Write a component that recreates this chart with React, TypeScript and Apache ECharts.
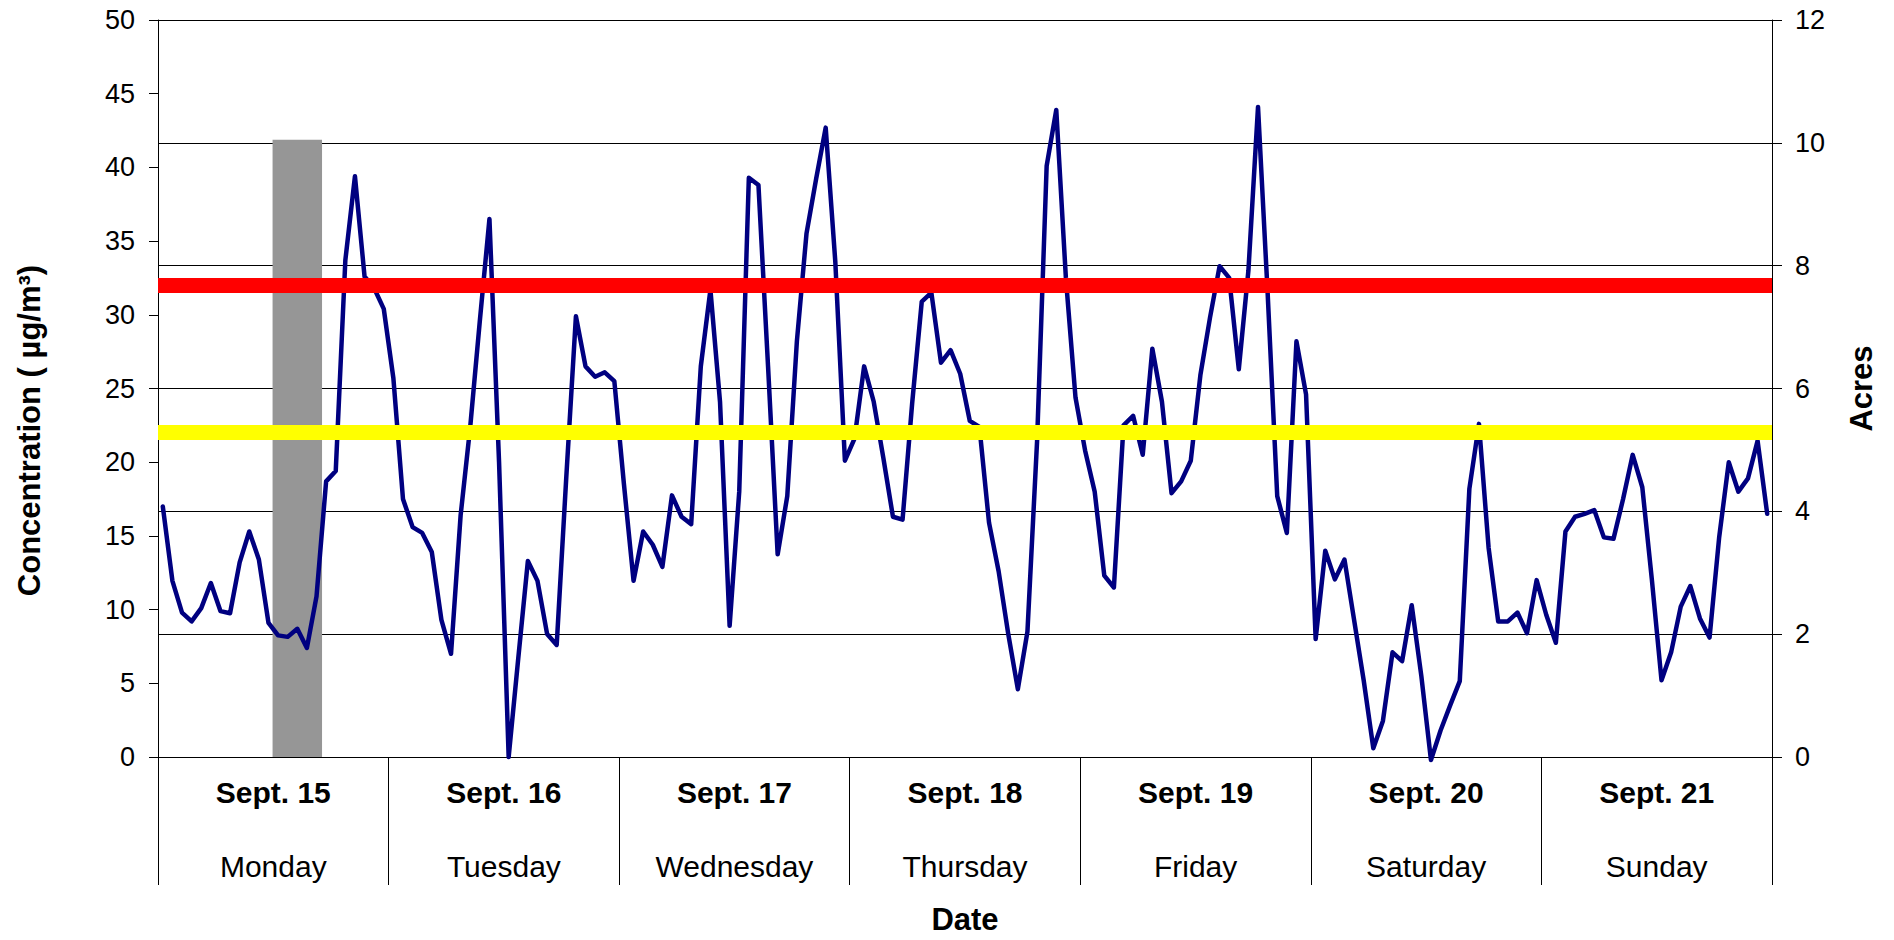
import React, { useEffect, useRef } from "react";
import * as echarts from "echarts";

// ---- Data ----
const dates = ["Sept. 15", "Sept. 16", "Sept. 17", "Sept. 18", "Sept. 19", "Sept. 20", "Sept. 21"];
const weekdays = ["Monday", "Tuesday", "Wednesday", "Thursday", "Friday", "Saturday", "Sunday"];

// Hourly PM concentration (µg/m³), 24 values per day
const monday = [17.0, 11.95, 9.8, 9.2, 10.1, 11.8, 9.9, 9.75, 13.2, 15.3, 13.4, 9.1, 8.25, 8.15, 8.7, 7.4, 10.9, 18.7, 19.4, 33.7, 39.4, 32.6, 31.8, 30.4];
const tuesday = [25.7, 17.5, 15.6, 15.2, 13.9, 9.3, 7.0, 16.4, 22.4, 29.6, 36.5, 20.0, 0.0, 6.7, 13.3, 11.95, 8.35, 7.6, 19.0, 29.9, 26.5, 25.8, 26.1, 25.5];
const wednesday = [18.5, 11.95, 15.3, 14.4, 12.9, 17.75, 16.3, 15.8, 26.5, 31.7, 24.1, 8.9, 18.0, 39.3, 38.8, 26.5, 13.75, 17.7, 28.2, 35.5, 39.2, 42.7, 33.6, 20.1];
const thursday = [21.6, 26.5, 24.1, 20.3, 16.3, 16.1, 24.0, 30.9, 31.5, 26.75, 27.6, 26.0, 22.8, 22.4, 15.9, 12.6, 8.35, 4.6, 8.5, 21.4, 40.1, 43.9, 32.5, 24.4];
const friday = [20.8, 18.0, 12.3, 11.5, 22.5, 23.15, 20.5, 27.7, 24.1, 17.9, 18.7, 20.1, 25.9, 29.8, 33.3, 32.5, 26.3, 33.0, 44.1, 31.5, 17.7, 15.2, 28.2, 24.6];
const saturday = [8.0, 14.0, 12.05, 13.4, 9.3, 5.2, 0.6, 2.45, 7.1, 6.5, 10.3, 5.5, -0.2, 1.8, 3.5, 5.15, 18.2, 22.6, 14.2, 9.2, 9.2, 9.8, 8.4, 12.0];
const sunday = [9.65, 7.75, 15.3, 16.3, 16.5, 16.75, 14.9, 14.8, 17.5, 20.5, 18.3, 12.0, 5.2, 7.1, 10.2, 11.6, 9.4, 8.1, 14.9, 20.0, 18.0, 18.9, 21.45, 16.5];

const concentration = [...monday, ...tuesday, ...wednesday, ...thursday, ...friday, ...saturday, ...sunday];

// Hour categories
const hourCategories = dates.flatMap((d) => Array.from({ length: 24 }, (_, h) => `${d} ${h}:00`));

// Burned acres (right axis): burn centred on hour index 14 (12:00–17:00 Monday), lasting 5 hours
const burnCenterHour = 14;
const burnDurationHours = 5.15;
const burnAcres = 10.05;

// Thresholds (µg/m³)
const thresholdHigh = 32;
const thresholdLow = 22;

const FONT = "'Liberation Sans', Arial, sans-serif";

export default function App() {
  const ref = useRef<HTMLDivElement>(null);

  useEffect(() => {
    if (!ref.current) return;
    const chart = echarts.init(ref.current, undefined, { renderer: "svg" });
    const option: any = {
      animation: false,
      backgroundColor: "#ffffff",
      textStyle: { fontFamily: FONT, color: "#000" },
      grid: { left: 158, right: 122, top: 20, bottom: 181, containLabel: false },
      xAxis: [
        {
          type: "category",
          data: hourCategories,
          position: "bottom",
          boundaryGap: true,
          axisLine: { show: true, onZero: false, lineStyle: { color: "#000", width: 1 } },
          axisTick: { show: false },
          axisLabel: { show: false },
          splitLine: { show: false },
        },
        {
          type: "category",
          data: dates,
          position: "bottom",
          boundaryGap: true,
          axisLine: { show: false, onZero: false },
          axisTick: { show: true, length: 128, lineStyle: { color: "#000", width: 1 } },
          axisLabel: { interval: 0, margin: 20, fontSize: 30, fontWeight: "bold", color: "#000", fontFamily: FONT },
          splitLine: { show: false },
        },
        {
          type: "category",
          data: weekdays,
          position: "bottom",
          boundaryGap: true,
          axisLine: { show: false, onZero: false },
          axisTick: { show: false },
          axisLabel: { interval: 0, margin: 94, fontSize: 30, color: "#000", fontFamily: FONT },
          splitLine: { show: false },
          name: "Date",
          nameLocation: "middle",
          nameGap: 147,
          nameTextStyle: { fontSize: 31, fontWeight: "bold", color: "#000", fontFamily: FONT },
        },
      ],
      yAxis: [
        {
          type: "value",
          position: "left",
          min: 0,
          max: 50,
          interval: 5,
          axisLine: { show: true, lineStyle: { color: "#000", width: 1 } },
          axisTick: { show: true, length: 9, lineStyle: { color: "#000" } },
          axisLabel: { margin: 23, fontSize: 27, color: "#000", fontFamily: FONT },
          splitLine: { show: false },
          name: "Concentration ( µg/m³)",
          nameLocation: "middle",
          nameRotate: 90,
          nameGap: 113,
          nameTextStyle: { fontSize: 31, fontWeight: "bold", color: "#000", fontFamily: FONT, padding: [0, 84, 0, 0] },
        },
        {
          type: "value",
          position: "right",
          min: 0,
          max: 12,
          interval: 2,
          axisLine: { show: true, lineStyle: { color: "#000", width: 1 } },
          axisTick: { show: true, length: 10, lineStyle: { color: "#000" } },
          axisLabel: { margin: 23, fontSize: 27, color: "#000", fontFamily: FONT },
          splitLine: { show: true, lineStyle: { color: "#000", width: 1 } },
          name: "Acres",
          nameLocation: "middle",
          nameRotate: 90,
          nameGap: 74,
          nameTextStyle: { fontSize: 31, fontWeight: "bold", color: "#000", fontFamily: FONT },
        },
      ],
      series: [
        {
          name: "Acres burned",
          type: "bar",
          xAxisIndex: 0,
          yAxisIndex: 1,
          data: [[burnCenterHour, burnAcres]],
          barWidth: `${burnDurationHours * 100}%`,
          itemStyle: { color: "#969696" },
          silent: true,
        },
        {
          name: "Concentration",
          type: "line",
          xAxisIndex: 0,
          yAxisIndex: 0,
          data: concentration,
          symbol: "none",
          clip: false,
          lineStyle: { color: "#000080", width: 4.5, cap: "round", join: "round" },
          silent: true,
          markLine: {
            silent: true,
            symbol: ["none", "none"],
            label: { show: false },
            lineStyle: { width: 15, type: "solid" },
            data: [
              { yAxis: thresholdHigh, lineStyle: { color: "#ff0000", width: 15, type: "solid" } },
              { yAxis: thresholdLow, lineStyle: { color: "#ffff00", width: 15, type: "solid" } },
            ],
          },
        },
      ],
    };
    chart.setOption(option);
    return () => chart.dispose();
  }, []);

  return (
    <div
      ref={ref}
      style={{ position: "fixed", left: 0, top: 0, width: 1894, height: 940, background: "#fff" }}
    />
  );
}
